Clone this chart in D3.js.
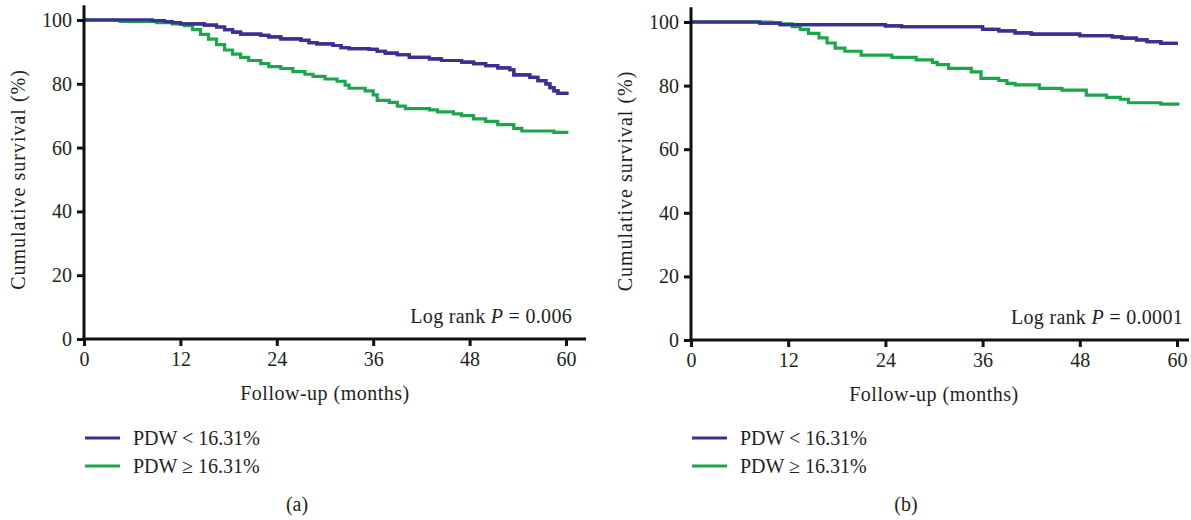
<!DOCTYPE html>
<html>
<head>
<meta charset="utf-8">
<script src="https://cdn.jsdelivr.net/npm/d3@7"></script>
<style>
  body { margin: 0; background: #fff; }
  svg text { font-family: "Liberation Serif", "DejaVu Serif", serif; fill: #231f20; }
</style>
</head>
<body>
<svg width="1191" height="520"></svg>
<script>
// Kaplan-Meier step points [month, survival %]
var aLow = [[0,100],[8.5,99.8],[10,99.5],[11,99.2],[12,98.8],[15,98.4],[16.5,97.8],[17.5,97.0],[18.5,96.2],[19.5,95.6],
    [22,95.2],[23,94.7],[24.5,94.1],[27,93.6],[28,92.9],[29,92.5],[31,92.0],[32,91.3],[33,91.0],[35.5,90.8],[36.5,90.2],
    [37.5,89.6],[39,89.1],[40.5,88.3],[43,87.8],[44.5,87.3],[47,86.8],[48.5,86.3],[50,85.7],[51.5,85.0],[53,84.4],
    [53.5,82.8],[55.5,82.0],[56.5,81.0],[57.5,80.0],[58,78.8],[58.5,77.8],[59,77.0],[60.3,77.0]];
var aHigh = [[0,100],[4.5,99.6],[9,99.2],[11,98.8],[12.5,98.2],[13.5,97.0],[14.5,95.5],[15.5,94.0],[16.5,92.3],[17.5,90.6],
    [18.5,89.3],[19.5,88.3],[20.5,87.3],[22,86.3],[23,85.4],[24.5,84.8],[26,83.8],[27.5,83.0],[28.5,82.3],[30,81.5],
    [31.5,80.8],[32.5,79.6],[33,78.6],[35,77.8],[36,76.5],[36.5,74.8],[38,74.2],[39,73.0],[40,72.2],[43,71.8],[44,71.2],
    [46,70.6],[47,70.0],[48.5,69.0],[50,68.2],[51.5,67.2],[53.5,66.0],[54.5,65.2],[58.5,64.8],[60.3,64.8]];
var bLow = [[0,100],[8.5,99.6],[11,99.2],[24,98.8],[26,98.5],[36,97.7],[38,97.2],[40,96.6],[42,96.2],[48,95.7],
    [52,95.3],[53.2,94.9],[55,94.4],[56.3,93.8],[58,93.3],[60.1,93.3]];
var bHigh = [[0,100],[10,99.8],[11,99.4],[12.5,98.5],[13.5,97.7],[14.5,96.4],[15.8,95.0],[16.8,93.4],[17.8,91.8],[19,90.8],
    [21,89.6],[24.8,88.9],[27.8,88.1],[29.8,87.3],[30.4,86.6],[31.8,85.4],[34.6,84.3],[35.8,82.3],[38,81.6],[39,80.7],
    [40,80.2],[43,79.1],[45.8,78.6],[48.8,77.0],[51.3,76.3],[53,75.7],[54,74.6],[58,74.2],[60.3,74.2]];

var xTicks = [0, 12, 24, 36, 48, 60];
var yTicks = [0, 20, 40, 60, 80, 100];
var seriesNames = ["PDW < 16.31%", "PDW \u2265 16.31%"];
var seriesColors = ["#3b2f8f", "#1ba64b"];
var pValues = ["0.006", "0.0001"];
var panelTags = ["(a)", "(b)"];

var svg = d3.select('svg');

var panels = [
    {x0: 84, x1: 566, xEnd: 586, y0: 339, y1: 20, data: [aLow, aHigh], p: pValues[0], tag: panelTags[0]},
    {x0: 691, x1: 1177, xEnd: 1189, y0: 340, y1: 22, data: [bLow, bHigh], p: pValues[1], tag: panelTags[1]}
];

panels.forEach(function(pn) {
    var g = svg.append('g');
    var x = d3.scaleLinear().domain([0, 60]).range([pn.x0, pn.x1]);
    var y = d3.scaleLinear().domain([0, 100]).range([pn.y0, pn.y1]);

    // curves
    var line = d3.line()
        .x(function(d) { return x(d[0]); })
        .y(function(d) { return y(d[1]); })
        .curve(d3.curveStepAfter);
    pn.data.forEach(function(s, i) {
        g.append('path')
            .attr('d', line(s))
            .attr('fill', 'none')
            .attr('stroke', seriesColors[i])
            .attr('stroke-width', 3.2);
    });
    // redraw the low group on top where they overlap at start
    g.append('path')
        .attr('d', line(pn.data[0]))
        .attr('fill', 'none')
        .attr('stroke', seriesColors[0])
        .attr('stroke-width', 3.2);

    // axes
    var xAxis = g.append('g')
        .attr('transform', 'translate(0,' + pn.y0 + ')')
        .call(d3.axisBottom(x).tickValues(xTicks).tickSize(7).tickSizeOuter(0));
    xAxis.select('.domain').remove();
    xAxis.append('line')
        .attr('x1', pn.x0 - 1.5).attr('x2', pn.xEnd)
        .attr('stroke', '#111').attr('stroke-width', 3);
    xAxis.selectAll('.tick line').attr('stroke', '#111').attr('stroke-width', 3);
    xAxis.selectAll('.tick text')
        .attr('y', 13).attr('dy', '0.71em')
        .style('font-size', '20px');

    var yAxis = g.append('g')
        .attr('transform', 'translate(' + pn.x0 + ',0)')
        .call(d3.axisLeft(y).tickValues(yTicks).tickSize(7).tickSizeOuter(0));
    yAxis.select('.domain').remove();
    yAxis.append('line')
        .attr('y1', y(104.6)).attr('y2', pn.y0 + 1.5)
        .attr('stroke', '#111').attr('stroke-width', 3);
    yAxis.selectAll('.tick line').attr('stroke', '#111').attr('stroke-width', 3);
    yAxis.selectAll('.tick text')
        .attr('x', -12)
        .style('font-size', '20px');

    // labels
    g.append('text')
        .attr('transform', 'translate(' + (pn.x0 - 59) + ',' + ((pn.y0 + pn.y1) / 2) + ') rotate(-90)')
        .attr('text-anchor', 'middle')
        .style('font-size', '20px')
        .style('letter-spacing', '1px')
        .text('Cumulative survival (%)');
    g.append('text')
        .attr('x', (pn.x0 + pn.x1) / 2)
        .attr('y', pn.y0 + 61)
        .attr('text-anchor', 'middle')
        .style('font-size', '20px')
        .style('letter-spacing', '0.5px')
        .text('Follow-up (months)');

    var lr = g.append('text')
        .attr('x', x(60) + 6)
        .attr('y', pn.y0 - 16)
        .attr('text-anchor', 'end')
        .style('font-size', '20px')
        .style('letter-spacing', '0.3px');
    lr.append('tspan').text('Log rank ');
    lr.append('tspan').style('font-style', 'italic').text('P');
    lr.append('tspan').text(' = ' + pn.p);

    // legend
    seriesNames.forEach(function(name, i) {
        var ly = 438 + i * 28;
        g.append('line')
            .attr('x1', pn.x0 + 1).attr('x2', pn.x0 + 36)
            .attr('y1', ly).attr('y2', ly)
            .attr('stroke', seriesColors[i]).attr('stroke-width', 3);
        g.append('text')
            .attr('x', pn.x0 + 49)
            .attr('y', ly + 7)
            .style('font-size', '20px')
            .text(name);
    });

    g.append('text')
        .attr('x', (pn.x0 + pn.x1) / 2 - 28)
        .attr('y', 511)
        .attr('text-anchor', 'middle')
        .style('font-size', '20px')
        .text(pn.tag);
});
</script>
</body>
</html>
